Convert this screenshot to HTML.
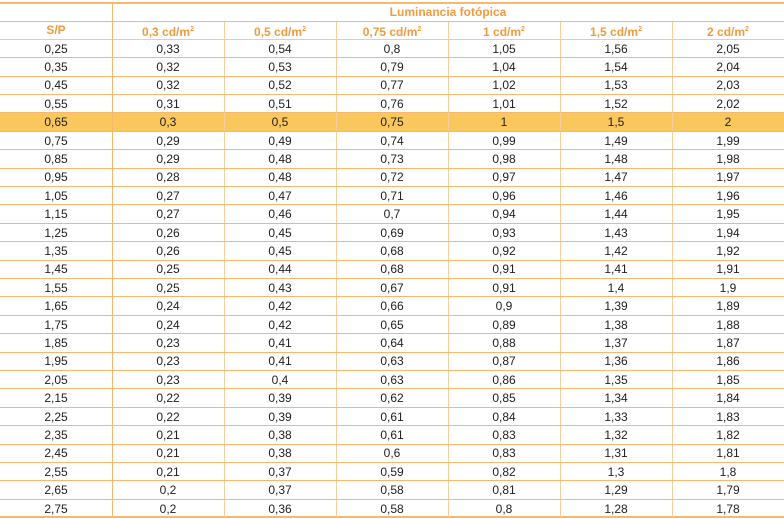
<!DOCTYPE html>
<html><head><meta charset="utf-8"><style>
html,body{margin:0;padding:0;background:#fff;}
body{width:784px;height:519px;position:relative;overflow:hidden;font-family:"Liberation Sans",sans-serif;font-size:12px;color:#222;}
.h{position:absolute;left:0;width:784px;height:1px;background:#f6b86c;}
.v{position:absolute;width:1px;background:#f8cf9c;}
.row{position:absolute;left:0;width:784px;height:18px;}
.row span{position:absolute;width:112px;text-align:center;line-height:18px;top:0;}
.hl{background:#f9c75c;}
.hd span{color:#f19a3e;font-weight:bold;}
sup{font-size:7px;vertical-align:5px;}
</style></head><body>
<div class="row hl" style="top:113px;height:18px"></div>
<div class="h" style="top:2px;height:2px"></div>
<div class="h" style="top:21px;left:0"></div>
<div class="h" style="top:39px;background:#f8c890"></div>
<div class="h" style="top:516px;height:2px"></div>
<div class="v" style="left:112px;top:2px;height:515px;background:#f6b86c"></div>
<div class="v" style="left:224px;top:22px;height:495px"></div>
<div class="v" style="left:336px;top:22px;height:495px"></div>
<div class="v" style="left:448px;top:22px;height:495px"></div>
<div class="v" style="left:560px;top:22px;height:495px"></div>
<div class="v" style="left:672px;top:22px;height:495px"></div>
<div class="row hd" style="top:3px"><span style="left:112px;width:672px">Luminancia fotópica</span></div>
<div class="row hd" style="top:21px"><span style="left:0">S/P</span><span style="left:112px">0,3 cd/m<sup>2</sup></span><span style="left:224px">0,5 cd/m<sup>2</sup></span><span style="left:336px">0,75 cd/m<sup>2</sup></span><span style="left:448px">1 cd/m<sup>2</sup></span><span style="left:560px">1,5 cd/m<sup>2</sup></span><span style="left:672px">2 cd/m<sup>2</sup></span></div>
<div class="h" style="top:57px"></div><div class="h" style="top:76px"></div><div class="h" style="top:94px"></div><div class="h" style="top:112px"></div><div class="h" style="top:131px"></div><div class="h" style="top:149px"></div><div class="h" style="top:168px"></div><div class="h" style="top:186px"></div><div class="h" style="top:204px"></div><div class="h" style="top:223px"></div><div class="h" style="top:241px"></div><div class="h" style="top:260px"></div><div class="h" style="top:278px"></div><div class="h" style="top:296px"></div><div class="h" style="top:315px"></div><div class="h" style="top:333px"></div><div class="h" style="top:352px"></div><div class="h" style="top:370px"></div><div class="h" style="top:388px"></div><div class="h" style="top:407px"></div><div class="h" style="top:425px"></div><div class="h" style="top:444px"></div><div class="h" style="top:462px"></div><div class="h" style="top:480px"></div><div class="h" style="top:499px"></div>
<div class="row" style="top:39.5px"><span style="left:0">0,25</span><span style="left:112px">0,33</span><span style="left:224px">0,54</span><span style="left:336px">0,8</span><span style="left:448px">1,05</span><span style="left:560px">1,56</span><span style="left:672px">2,05</span></div>
<div class="row" style="top:57.9px"><span style="left:0">0,35</span><span style="left:112px">0,32</span><span style="left:224px">0,53</span><span style="left:336px">0,79</span><span style="left:448px">1,04</span><span style="left:560px">1,54</span><span style="left:672px">2,04</span></div>
<div class="row" style="top:76.3px"><span style="left:0">0,45</span><span style="left:112px">0,32</span><span style="left:224px">0,52</span><span style="left:336px">0,77</span><span style="left:448px">1,02</span><span style="left:560px">1,53</span><span style="left:672px">2,03</span></div>
<div class="row" style="top:94.7px"><span style="left:0">0,55</span><span style="left:112px">0,31</span><span style="left:224px">0,51</span><span style="left:336px">0,76</span><span style="left:448px">1,01</span><span style="left:560px">1,52</span><span style="left:672px">2,02</span></div>
<div class="row" style="top:113.1px"><span style="left:0">0,65</span><span style="left:112px">0,3</span><span style="left:224px">0,5</span><span style="left:336px">0,75</span><span style="left:448px">1</span><span style="left:560px">1,5</span><span style="left:672px">2</span></div>
<div class="row" style="top:131.5px"><span style="left:0">0,75</span><span style="left:112px">0,29</span><span style="left:224px">0,49</span><span style="left:336px">0,74</span><span style="left:448px">0,99</span><span style="left:560px">1,49</span><span style="left:672px">1,99</span></div>
<div class="row" style="top:149.9px"><span style="left:0">0,85</span><span style="left:112px">0,29</span><span style="left:224px">0,48</span><span style="left:336px">0,73</span><span style="left:448px">0,98</span><span style="left:560px">1,48</span><span style="left:672px">1,98</span></div>
<div class="row" style="top:168.3px"><span style="left:0">0,95</span><span style="left:112px">0,28</span><span style="left:224px">0,48</span><span style="left:336px">0,72</span><span style="left:448px">0,97</span><span style="left:560px">1,47</span><span style="left:672px">1,97</span></div>
<div class="row" style="top:186.7px"><span style="left:0">1,05</span><span style="left:112px">0,27</span><span style="left:224px">0,47</span><span style="left:336px">0,71</span><span style="left:448px">0,96</span><span style="left:560px">1,46</span><span style="left:672px">1,96</span></div>
<div class="row" style="top:205.1px"><span style="left:0">1,15</span><span style="left:112px">0,27</span><span style="left:224px">0,46</span><span style="left:336px">0,7</span><span style="left:448px">0,94</span><span style="left:560px">1,44</span><span style="left:672px">1,95</span></div>
<div class="row" style="top:223.5px"><span style="left:0">1,25</span><span style="left:112px">0,26</span><span style="left:224px">0,45</span><span style="left:336px">0,69</span><span style="left:448px">0,93</span><span style="left:560px">1,43</span><span style="left:672px">1,94</span></div>
<div class="row" style="top:241.9px"><span style="left:0">1,35</span><span style="left:112px">0,26</span><span style="left:224px">0,45</span><span style="left:336px">0,68</span><span style="left:448px">0,92</span><span style="left:560px">1,42</span><span style="left:672px">1,92</span></div>
<div class="row" style="top:260.3px"><span style="left:0">1,45</span><span style="left:112px">0,25</span><span style="left:224px">0,44</span><span style="left:336px">0,68</span><span style="left:448px">0,91</span><span style="left:560px">1,41</span><span style="left:672px">1,91</span></div>
<div class="row" style="top:278.7px"><span style="left:0">1,55</span><span style="left:112px">0,25</span><span style="left:224px">0,43</span><span style="left:336px">0,67</span><span style="left:448px">0,91</span><span style="left:560px">1,4</span><span style="left:672px">1,9</span></div>
<div class="row" style="top:297.1px"><span style="left:0">1,65</span><span style="left:112px">0,24</span><span style="left:224px">0,42</span><span style="left:336px">0,66</span><span style="left:448px">0,9</span><span style="left:560px">1,39</span><span style="left:672px">1,89</span></div>
<div class="row" style="top:315.5px"><span style="left:0">1,75</span><span style="left:112px">0,24</span><span style="left:224px">0,42</span><span style="left:336px">0,65</span><span style="left:448px">0,89</span><span style="left:560px">1,38</span><span style="left:672px">1,88</span></div>
<div class="row" style="top:333.9px"><span style="left:0">1,85</span><span style="left:112px">0,23</span><span style="left:224px">0,41</span><span style="left:336px">0,64</span><span style="left:448px">0,88</span><span style="left:560px">1,37</span><span style="left:672px">1,87</span></div>
<div class="row" style="top:352.3px"><span style="left:0">1,95</span><span style="left:112px">0,23</span><span style="left:224px">0,41</span><span style="left:336px">0,63</span><span style="left:448px">0,87</span><span style="left:560px">1,36</span><span style="left:672px">1,86</span></div>
<div class="row" style="top:370.7px"><span style="left:0">2,05</span><span style="left:112px">0,23</span><span style="left:224px">0,4</span><span style="left:336px">0,63</span><span style="left:448px">0,86</span><span style="left:560px">1,35</span><span style="left:672px">1,85</span></div>
<div class="row" style="top:389.1px"><span style="left:0">2,15</span><span style="left:112px">0,22</span><span style="left:224px">0,39</span><span style="left:336px">0,62</span><span style="left:448px">0,85</span><span style="left:560px">1,34</span><span style="left:672px">1,84</span></div>
<div class="row" style="top:407.5px"><span style="left:0">2,25</span><span style="left:112px">0,22</span><span style="left:224px">0,39</span><span style="left:336px">0,61</span><span style="left:448px">0,84</span><span style="left:560px">1,33</span><span style="left:672px">1,83</span></div>
<div class="row" style="top:425.9px"><span style="left:0">2,35</span><span style="left:112px">0,21</span><span style="left:224px">0,38</span><span style="left:336px">0,61</span><span style="left:448px">0,83</span><span style="left:560px">1,32</span><span style="left:672px">1,82</span></div>
<div class="row" style="top:444.3px"><span style="left:0">2,45</span><span style="left:112px">0,21</span><span style="left:224px">0,38</span><span style="left:336px">0,6</span><span style="left:448px">0,83</span><span style="left:560px">1,31</span><span style="left:672px">1,81</span></div>
<div class="row" style="top:462.7px"><span style="left:0">2,55</span><span style="left:112px">0,21</span><span style="left:224px">0,37</span><span style="left:336px">0,59</span><span style="left:448px">0,82</span><span style="left:560px">1,3</span><span style="left:672px">1,8</span></div>
<div class="row" style="top:481.1px"><span style="left:0">2,65</span><span style="left:112px">0,2</span><span style="left:224px">0,37</span><span style="left:336px">0,58</span><span style="left:448px">0,81</span><span style="left:560px">1,29</span><span style="left:672px">1,79</span></div>
<div class="row" style="top:499.5px"><span style="left:0">2,75</span><span style="left:112px">0,2</span><span style="left:224px">0,36</span><span style="left:336px">0,58</span><span style="left:448px">0,8</span><span style="left:560px">1,28</span><span style="left:672px">1,78</span></div>
</body></html>
